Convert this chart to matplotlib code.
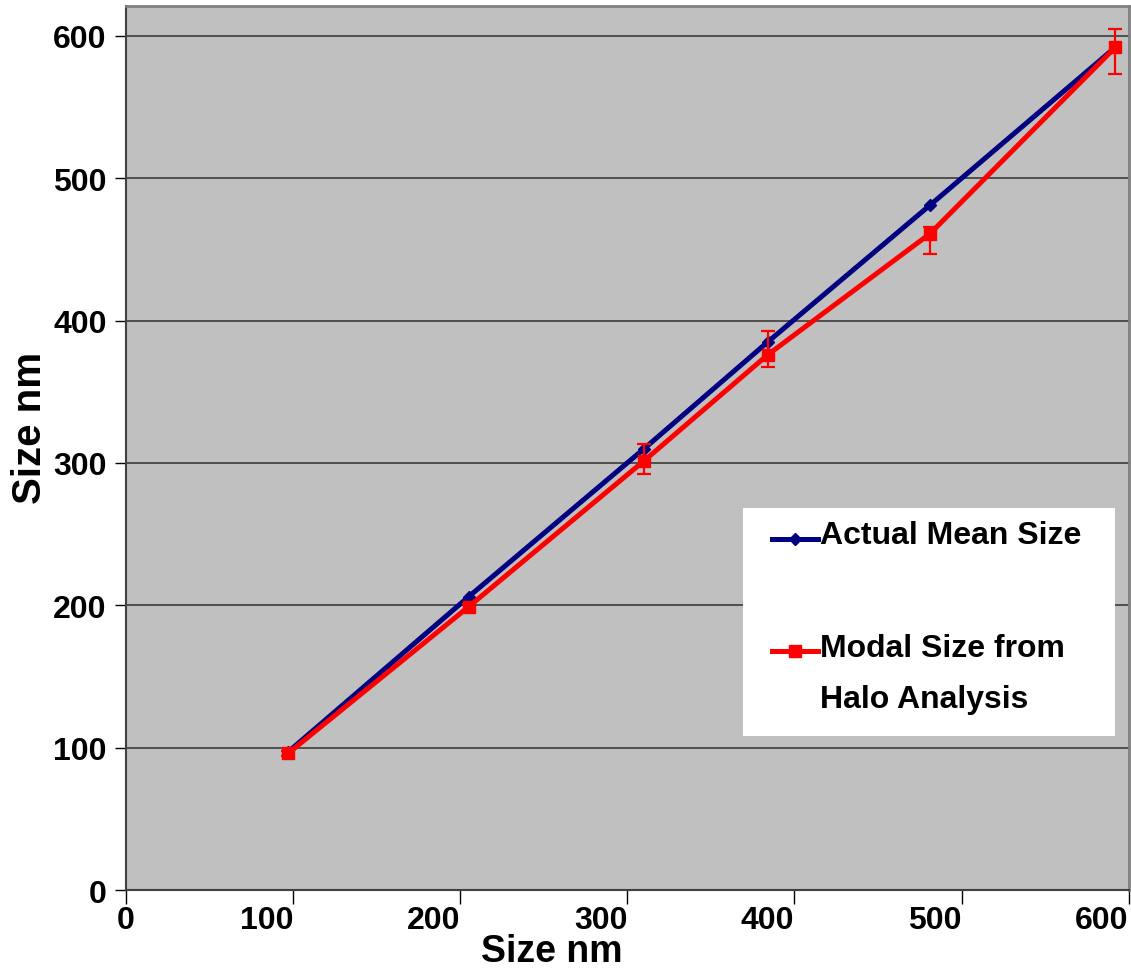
import matplotlib
matplotlib.use("Agg")
import matplotlib.pyplot as plt
from matplotlib.lines import Line2D
from matplotlib.patches import Rectangle

# sizes (nm)
actual_size = [97, 205, 310, 384, 481, 592]
actual_mean = [97, 206, 310, 385, 481, 592]
modal_size = [96, 199, 301.5, 376, 461, 592]
err_low = [2, 2, 9, 8.5, 14, 18.5]
err_high = [2, 2, 12, 17, 5, 13]

series_labels = ["Actual Mean Size", "Modal Size from", "Halo Analysis"]
ticks = [0, 100, 200, 300, 400, 500, 600]

plt.rcParams["font.family"] = ["Liberation Sans", "DejaVu Sans"]
plt.rcParams["font.weight"] = "bold"

fig = plt.figure(figsize=(11.31, 9.70), dpi=100)
ax = fig.add_axes([0.1114, 0.0814, 0.8866, 0.9114])
ax.set_facecolor("#C0C0C0")

ax.plot(actual_size, actual_mean, color="#000080", lw=3.6, marker="D",
        ms=6, mfc="#000080", mec="#000080", zorder=3)
ax.errorbar(actual_size, modal_size, yerr=[err_low, err_high], color="#FF0000",
            lw=3.6, marker="s", ms=8, mfc="#FF0000", mec="#FF0000",
            ecolor="#FF0000", elinewidth=1.6, capsize=5, capthick=1.6,
            zorder=4)

ax.set_xlim(0, 600)
ax.set_ylim(0, 621)
ax.set_xticks(ticks)
ax.set_yticks(ticks)
ax.grid(axis="y", color="#303030", lw=1.1)
ax.set_axisbelow(True)

ax.tick_params(axis="both", labelsize=23, colors="black")
ax.tick_params(axis="y", length=8, width=1, pad=6)
ax.tick_params(axis="x", length=10, width=1, pad=1)
for lab in ax.get_xticklabels() + ax.get_yticklabels():
    lab.set_fontweight("bold")
# x labels sit to the left of their ticks, except the zero
for lab in ax.get_xticklabels()[1:]:
    lab.set_ha("right")

for side in ["top", "right"]:
    ax.spines[side].set_color("#808080")
    ax.spines[side].set_linewidth(2)
for side in ["left", "bottom"]:
    ax.spines[side].set_color("#404040")
    ax.spines[side].set_linewidth(1.5)

ax.set_xlabel("Size nm", fontsize=27, fontweight="bold")
ax.set_ylabel("Size nm", fontsize=29, fontweight="bold")
ax.xaxis.set_label_coords(0.425, -0.0893)
ax.yaxis.set_label_coords(-0.096, 0.524)
ax.xaxis.label.set_va("bottom")
ax.yaxis.label.set_va("center")


# legend box drawn by hand so the red key lines up with the first text row
def ax_xy(px, py):
    return (px - 126) / 1002.7, (891 - py) / 884


tr = ax.transAxes
bx0, by0 = ax_xy(743, 737)
bx1, by1 = ax_xy(1115, 509)
ax.add_patch(Rectangle((bx0, by0), bx1 - bx0, by1 - by0, transform=tr,
                       facecolor="white", edgecolor="none", zorder=5))

hx0, _ = ax_xy(772, 0)
hx1, _ = ax_xy(818, 0)
hxm, _ = ax_xy(795, 0)
tx, _ = ax_xy(820, 0)

_, y1 = ax_xy(0, 540)
ax.add_line(Line2D([hx0, hx1], [y1, y1], transform=tr, color="#000080",
                   lw=3.6, zorder=6))
ax.add_line(Line2D([hxm], [y1], transform=tr, color="#000080", marker="D",
                   ms=6, zorder=6))
_, t1 = ax_xy(0, 536)
ax.text(tx, t1, series_labels[0], transform=tr, fontsize=23,
        fontweight="bold", va="center", ha="left", zorder=6)

_, y2 = ax_xy(0, 652)
ax.add_line(Line2D([hx0, hx1], [y2, y2], transform=tr, color="#FF0000",
                   lw=3.6, zorder=6))
ax.add_line(Line2D([hxm], [y2], transform=tr, color="#FF0000", marker="s",
                   ms=8, zorder=6))
_, t2 = ax_xy(0, 649)
_, t3 = ax_xy(0, 700)
ax.text(tx, t2, series_labels[1], transform=tr, fontsize=23,
        fontweight="bold", va="center", ha="left", zorder=6)
ax.text(tx, t3, series_labels[2], transform=tr, fontsize=23,
        fontweight="bold", va="center", ha="left", zorder=6)

fig.savefig("out.png", dpi=100)
